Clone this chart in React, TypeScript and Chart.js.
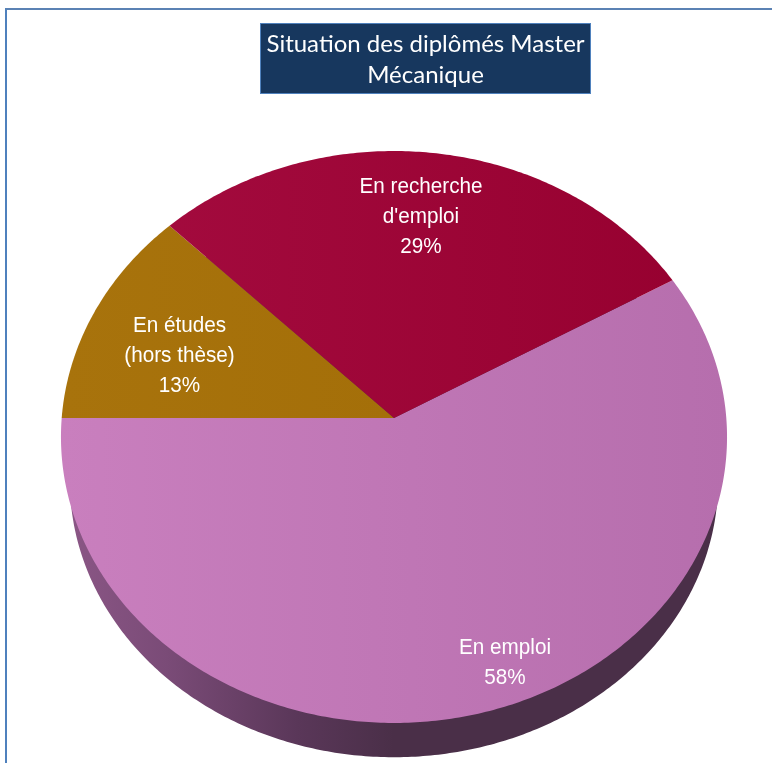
import React, { useEffect, useRef } from "react";
import { Chart, registerables } from "chart.js";

Chart.register(...registerables);

const categories = ["En emploi", "En études (hors thèse)", "En recherche d'emploi"];
const counts = [14, 3, 7];
const labelLines = [["En emploi"], ["En études", "(hors thèse)"], ["En recherche", "d'emploi"]];
const titleLines = ["Situation des diplômés Master", "Mécanique"];

const W = 772;
const H = 763;
// Perspective of the pie top: apex, half-width, foreshortening.
const TOP = { x: 394, y: 418, b: 332.3, a: 284.7, k: -0.0664 };
const BASE = { x: 394, y: 463, b: 323.4, a: 274.7, k: -0.0664 };
const BOX = { left: 261, right: 590, top: 24, bottom: 93 };
const LABEL_SPOTS = [
  { x: 505, y: 654 },
  { x: 179.5, y: 332 },
  { x: 421, y: 193 },
];
const LABEL_STEP = 30;
const LABEL_SQUEEZE = 0.94;

type Proj = typeof TOP;

function wedge(ctx: CanvasRenderingContext2D, p: Proj, start: number, end: number) {
  ctx.beginPath();
  ctx.moveTo(p.x, p.y);
  const n = Math.max(8, Math.ceil((end - start) * 90));
  for (let i = 0; i <= n; i++) {
    const t = start + ((end - start) * i) / n;
    const u = Math.cos(t);
    const v = Math.sin(t);
    const d = 1 + p.k * v;
    ctx.lineTo(p.x + (p.b * u) / d, p.y + (p.a * v) / d);
  }
  ctx.closePath();
}

const piePlugin = {
  id: "perspectivePie",
  afterLayout(chart: any) {
    const t = chart.titleBlock;
    t.left = BOX.left;
    t.right = BOX.right;
    t.top = BOX.top + 5;
  },
  beforeDraw(chart: any) {
    const ctx = chart.ctx;
    ctx.save();
    ctx.fillStyle = "#17375E";
    ctx.fillRect(BOX.left, BOX.top, BOX.right - BOX.left, BOX.bottom - BOX.top);
    ctx.strokeStyle = "#4F81BD";
    ctx.lineWidth = 1;
    ctx.strokeRect(BOX.left - 0.5, BOX.top - 0.5, BOX.right - BOX.left + 1, BOX.bottom - BOX.top + 1);
    ctx.restore();
  },
  beforeDatasetDraw(chart: any) {
    const ctx: CanvasRenderingContext2D = chart.ctx;
    const arcs = chart.getDatasetMeta(0).data;
    ctx.save();
    const side = ctx.createLinearGradient(BASE.x - BASE.b, 0, BASE.x, 0);
    side.addColorStop(0, "#8A5685");
    side.addColorStop(0.3, "#7A4B77");
    side.addColorStop(0.7, "#5A3759");
    side.addColorStop(1, "#4A2F48");
    for (const arc of arcs) {
      wedge(ctx, BASE, arc.startAngle, arc.endAngle);
      ctx.fillStyle = side;
      ctx.fill();
    }
    for (const arc of arcs) {
      wedge(ctx, TOP, arc.startAngle, arc.endAngle);
      ctx.fillStyle = arc.options.backgroundColor;
      ctx.fill();
    }
    ctx.restore();
    return false;
  },
  afterDraw(chart: any) {
    const ctx: CanvasRenderingContext2D = chart.ctx;
    const data: number[] = chart.data.datasets[0].data;
    const total = data.reduce((s, v) => s + v, 0);
    ctx.save();
    ctx.fillStyle = "#FFFFFF";
    ctx.font = '22px "Liberation Sans", Arial, sans-serif';
    ctx.textAlign = "center";
    ctx.textBaseline = "alphabetic";
    data.forEach((value, i) => {
      const lines = [...labelLines[i], `${Math.round((value / total) * 100)}%`];
      lines.forEach((line, j) => {
        ctx.save();
        ctx.translate(LABEL_SPOTS[i].x, LABEL_SPOTS[i].y + j * LABEL_STEP);
        ctx.scale(LABEL_SQUEEZE, 1);
        ctx.fillText(line, 0, 0);
        ctx.restore();
      });
    });
    ctx.restore();
  },
};

export default function App() {
  const ref = useRef<HTMLCanvasElement>(null);
  useEffect(() => {
    const canvas = ref.current!;
    const ctx = canvas.getContext("2d")!;
    const fade = (a: string, b: string) => {
      const g = ctx.createLinearGradient(TOP.x - TOP.b, 0, TOP.x + TOP.b, 0);
      g.addColorStop(0, a);
      g.addColorStop(1, b);
      return g;
    };
    const chart = new Chart(canvas, {
      type: "pie",
      data: {
        labels: categories,
        datasets: [
          {
            data: counts,
            backgroundColor: [
              fade("#C97FBE", "#B66EAD"),
              fade("#A8730C", "#A06B06"),
              fade("#A50C40", "#96002F"),
            ],
            borderWidth: 0,
          },
        ],
      },
      options: {
        responsive: false,
        animation: false,
        rotation: 60,
        layout: { padding: 0 },
        plugins: {
          legend: { display: false },
          tooltip: { enabled: false },
          title: {
            display: true,
            text: titleLines,
            color: "#FFFFFF",
            font: { family: "Lato, 'Open Sans', sans-serif", size: 24, weight: "normal", lineHeight: 1.28 },
            padding: 0,
          },
        },
      },
      plugins: [piePlugin],
    } as any);
    return () => chart.destroy();
  }, []);
  return (
    <div style={{ position: "fixed", left: 0, top: 0, width: W, height: H, background: "#FFFFFF", overflow: "hidden" }}>
      <canvas ref={ref} width={W} height={H} style={{ display: "block" }} />
      <div
        style={{
          position: "absolute",
          left: 5,
          top: 8,
          width: W,
          height: H,
          boxSizing: "border-box",
          borderLeft: "2px solid #4F81BD",
          borderTop: "2px solid #5B82B4",
          pointerEvents: "none",
        }}
      />
    </div>
  );
}
